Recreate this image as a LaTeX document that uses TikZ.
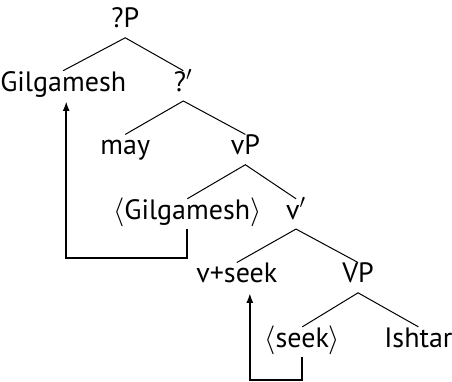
\documentclass[tikz,border=0pt]{standalone}
\usepackage{fontspec}
\setmainfont{PT Sans}
\usepackage{tikz}
\usetikzlibrary{arrows.meta}

\begin{document}
\begin{tikzpicture}[
    word/.style={anchor=base, inner sep=2.5pt, text height=1.5ex, text depth=.45ex,
                 font=\fontsize{14}{16}\selectfont},
    branch/.style={line width=.5pt},
    move/.style={line width=1pt, ->, >={Latex[length=5pt,width=3.5pt]}}
  ]
  \useasboundingbox (0,0) rectangle (7.94,-6.71);

  \node [word] (P)      at (2.20,-0.49) {?P};
  \node [word] (Gil)    at (1.11,-1.60) {Gilgamesh};
  \node [word] (bar)    at (3.22,-1.60) {?$'$};
  \node [word] (may)    at (2.20,-2.72) {may};
  \node [word] (vP)     at (4.31,-2.72) {vP};
  \node [word] (tGil)   at (3.29,-3.85) {$\langle$Gilgamesh$\rangle$};
  \node [word] (vbar)   at (5.20,-3.85) {v$'$};
  \node [word] (vseek)  at (4.16,-4.97) {v+seek};
  \node [word] (VP)     at (6.29,-4.97) {VP};
  \node [word] (tseek)  at (5.31,-6.10) {$\langle$seek$\rangle$};
  \node [word] (Ishtar) at (7.35,-6.10) {Ishtar};

  \coordinate (low1) at (0,-4.53);
  \coordinate (low2) at (0,-6.68);

  \draw [branch] (Gil.north) -- (P.south) -- (bar.north);
  \draw [branch] (may.north) -- (bar.south) -- (vP.north);
  \draw [branch] (tGil.north) -- (vP.south) -- (vbar.north);
  \draw [branch] (vseek.north) -- (vbar.south) -- (VP.north);
  \draw [branch] (tseek.north) -- (VP.south) -- (Ishtar.north);

  \draw [move] (tGil.south) -- (tGil.south |- low1) -| ([xshift=1.5pt]Gil.south);
  \draw [move] (tseek.south) -- (tseek.south |- low2) -| ([xshift=6.5pt]vseek.south);
\end{tikzpicture}
\end{document}
